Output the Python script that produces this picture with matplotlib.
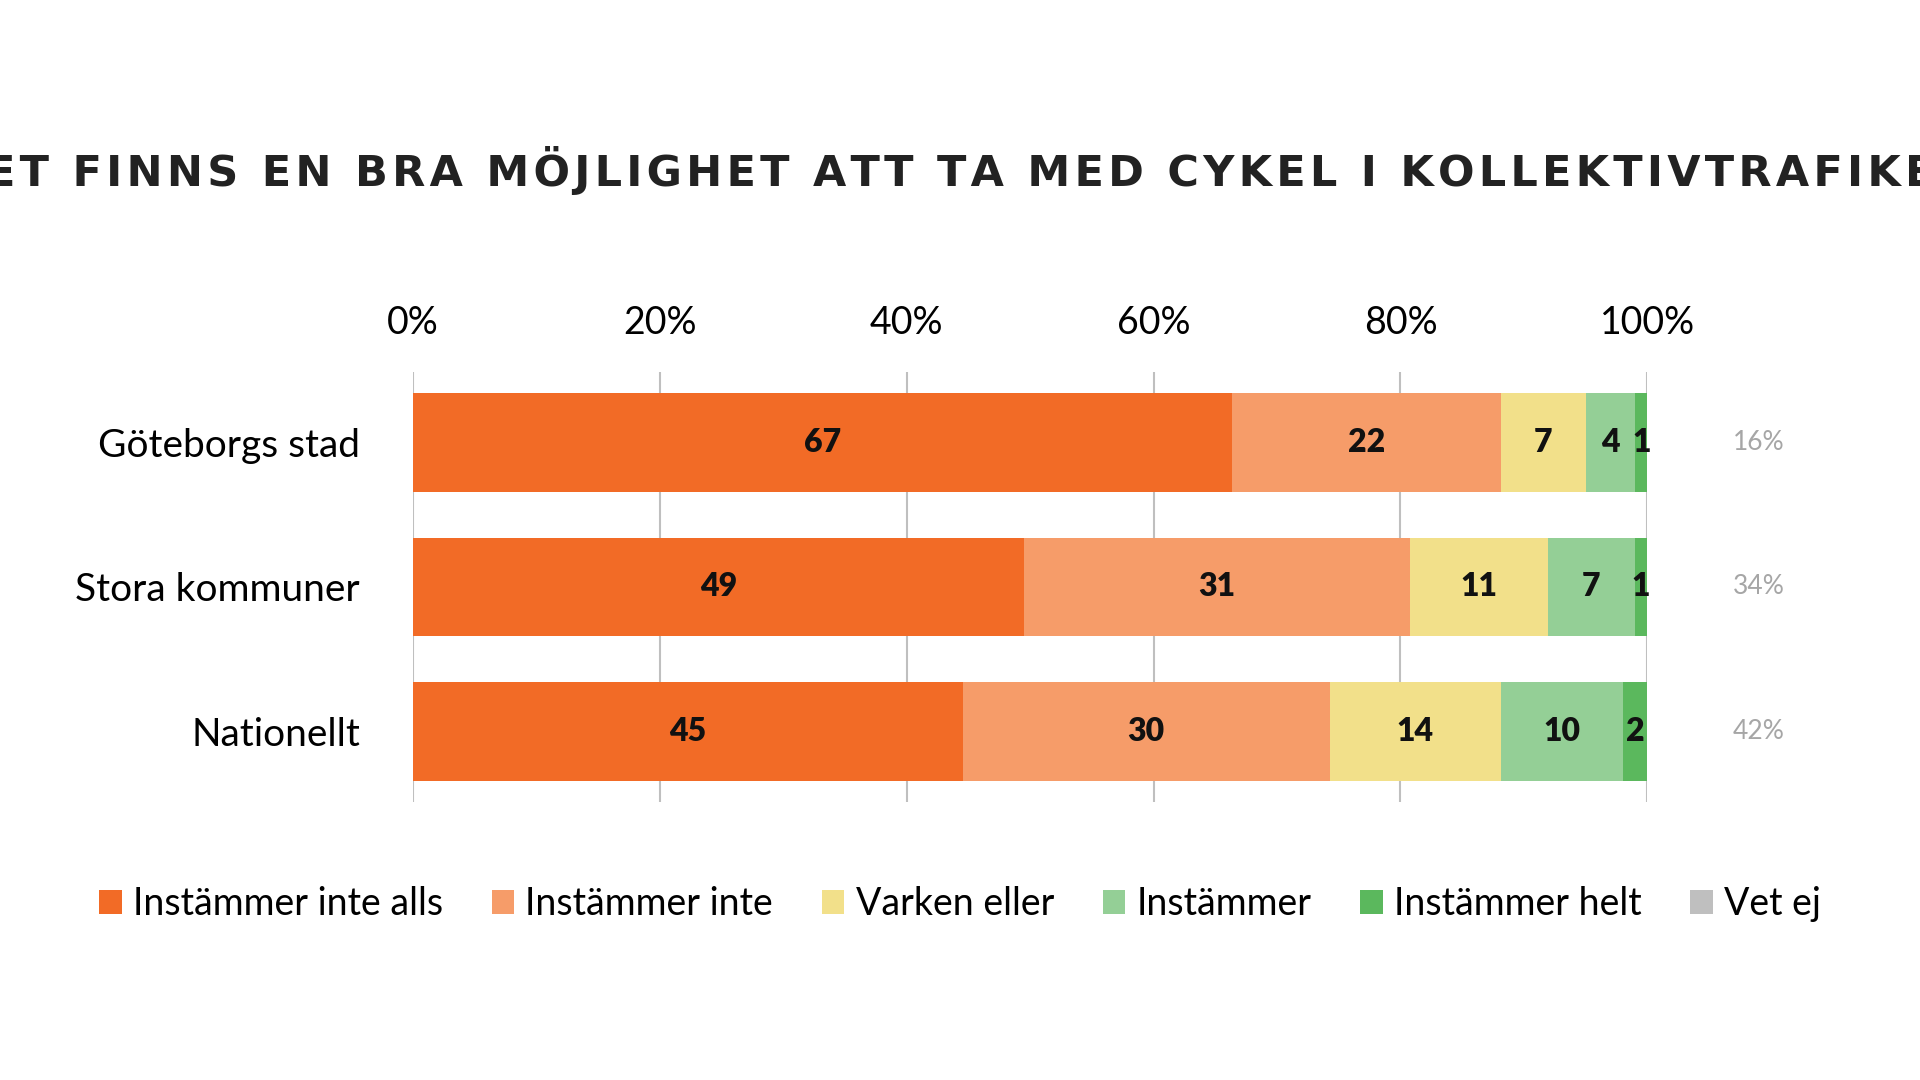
import numpy as np
import matplotlib.pyplot as plt
from matplotlib.patches import Patch

plt.rcParams["font.family"] = "Lato"

categories = ["Göteborgs stad", "Stora kommuner", "Nationellt"]
series = ["Instämmer inte alls", "Instämmer inte", "Varken eller", "Instämmer", "Instämmer helt", "Vet ej"]
values = np.array([
    [67, 22, 7, 4, 1, 0],
    [49, 31, 11, 7, 1, 0],
    [45, 30, 14, 10, 2, 0],
])
side_labels = ["16%", "34%", "42%"]
colors = ["#F26B26", "#F69C69", "#F2E08A", "#94CF96", "#5BB85D", "#BFBFBF"]
ticks = [0, 20, 40, 60, 80, 100]

fig = plt.figure(figsize=(19.2, 10.8), dpi=100)
ax = fig.add_axes([0.215, 0.257, 0.643, 0.399])

shares = values / values.sum(axis=1, keepdims=True) * 100
y = np.arange(len(categories))
left = np.zeros(len(categories))
for j, name in enumerate(series):
    ax.barh(y, shares[:, j], left=left, height=0.68, color=colors[j], zorder=3)
    for i in range(len(categories)):
        if values[i, j] > 0:
            ax.text(left[i] + shares[i, j] / 2, y[i], str(values[i, j]), ha="center", va="center",
                    fontsize=23, fontweight="heavy", color="#111111", zorder=4)
    left += shares[:, j]

for i, lab in enumerate(side_labels):
    ax.text(109, y[i], lab, ha="center", va="center", fontsize=19, color="#A6A6A6", clip_on=False)

ax.set_xlim(0, 100)
ax.set_ylim(2.49, -0.49)
ax.set_xticks(ticks)
ax.set_xticklabels([f"{t}%" for t in ticks], fontsize=27)
ax.xaxis.tick_top()
ax.tick_params(axis="x", length=0, pad=22)
ax.set_yticks(y)
ax.set_yticklabels(categories, fontsize=28)
ax.tick_params(axis="y", length=0, pad=38)
ax.grid(axis="x", color="#BFBFBF", linewidth=1.5, zorder=0)
for s in ax.spines.values():
    s.set_visible(False)

title = "DET FINNS EN BRA MÖJLIGHET ATT TA MED CYKEL I KOLLEKTIVTRAFIKEN"
fig.text(0.5, 0.842, "\u200a".join(title), ha="center", va="center", fontsize=31,
         fontweight="heavy", color="#222222", family=["DejaVu Sans"])

handles = [Patch(facecolor=c, label=s) for c, s in zip(colors, series)]
fig.legend(handles=handles, loc="center", bbox_to_anchor=(0.5, 0.163), ncol=6, frameon=False,
           fontsize=27, handlelength=0.6, handleheight=0.6, handletextpad=0.3, columnspacing=1.3)

fig.savefig("out.png", dpi=100)
